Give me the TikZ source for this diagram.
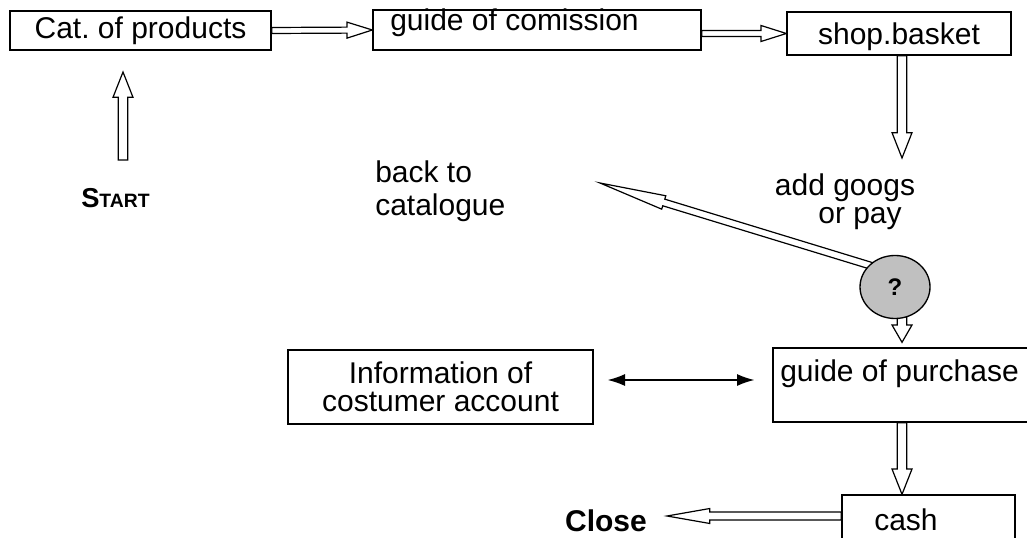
\documentclass[tikz,border=0pt]{standalone}
\usepackage{fontspec}
\setmainfont{Liberation Sans}
\usetikzlibrary{calc}
\usetikzlibrary{shapes}
\usetikzlibrary{backgrounds}
\usetikzlibrary{arrows.meta}
\frenchspacing

\begin{document}
\begin{tikzpicture}[x=0.75pt,y=0.75pt,yscale=-1,xscale=1,
  every node/.style={font=\fontsize{22.5}{27}\selectfont},
  box/.style={draw, line width=1pt, fill=white, inner sep=0pt},
  lbl/.style={inner sep=0pt},
  blockarr/.style n args={3}{draw, line width=0.9pt, fill=white, line join=miter,
    to path={let \p1=(\tikztostart), \p2=(\tikztotarget),
      \n1={atan2(\y2-\y1,\x2-\x1)} in
      ($(\p1)+(\n1+90:#1)$) -- ($(\p2)+(\n1+180:#3)+(\n1+90:#1)$)
      -- ($(\p2)+(\n1+180:#3)+(\n1+90:#2)$) -- (\p2)
      -- ($(\p2)+(\n1+180:#3)+(\n1-90:#2)$) -- ($(\p2)+(\n1+180:#3)+(\n1-90:#1)$)
      -- ($(\p1)+(\n1-90:#1)$) -- cycle}},
  thinarr/.style={line width=1pt, {Latex[length=13pt,width=9pt]}-{Latex[length=13pt,width=9pt]}}
]
\useasboundingbox (0,0) rectangle (1027,538);
\clip (0,0) rectangle (1027,538);

%Shape: Rectangle
\node[box, minimum width=195.75pt, minimum height=29.25pt] (cat) at (140.5,30.5) {Cat. of products};
%Shape: Rectangle
\node[box, minimum width=246pt, minimum height=30pt] (com) at (537,30) {};
%Shape: Rectangle
\node[box, minimum width=168pt, minimum height=32.25pt, text depth=0pt] (shop) at (899,33.5) {shop.basket};
%Shape: Ellipse
\node[draw, ellipse, line width=1pt, fill={rgb,255:red,192;green,192;blue,192}, minimum width=52.5pt, minimum height=47.25pt, inner sep=0pt, font=\bfseries\fontsize{18}{18}\selectfont] (ask) at (895,287) {?};
%Shape: Rectangle
\node[box, minimum width=228.75pt, minimum height=55.5pt, align=center, font=\fontsize{22.5}{21}\selectfont] (info) at (440.5,387) {Information of\\costumer account};
%Shape: Rectangle
\node[box, minimum width=200.25pt, minimum height=55.5pt] (pur) at (906.5,385) {};
%Shape: Rectangle
\node[box, minimum width=129.75pt, minimum height=52.5pt] (cash) at (928.5,530) {};

% Text Node
\node[lbl, anchor=base west] (comtxt) at (390,31) {guide of comission};
% Text Node
\node[lbl, anchor=base west] (purtxt) at (780,381) {guide of purchase};
% Text Node
\node[lbl, anchor=base west] (cashtxt) at (874,530) {cash};
% Text Node
\node[lbl, anchor=base, font=\bfseries\fontsize{22.5}{27}\selectfont] (close) at (606,531) {Close};
% Text Node
\node[lbl, anchor=base west, font=\bfseries] (start) at (81,208) {\fontsize{20.5}{21}\selectfont S\fontsize{14.5}{15}\selectfont TART};
% Text Node
\node[lbl, anchor=north west, align=left, font=\fontsize{22.5}{24.75}\selectfont] (back) at (375,160) {back to\\catalogue};
% Text Node
\node[lbl, anchor=north, align=center, font=\fontsize{22.5}{21.5}\selectfont] (pay) at (845,173) {add googs\\\hspace*{1em}or pay};

\coordinate (stip) at (123,72);
\coordinate (sbot) at (123,160);
\coordinate (shopdn) at (902,158);
\coordinate (bktip) at (600,183);
\coordinate (cltip) at (667,516);

\begin{scope}[on background layer]
%Block Arrows
\draw[blockarr={2.25pt}{6pt}{19pt}] (cat.east) to (com.west);
\draw[blockarr={2.25pt}{6pt}{19pt}] (com.east |- shop.west) to (shop.west);
\draw[blockarr={3.5pt}{7.5pt}{19pt}] (sbot) to (stip);
\draw[blockarr={3.5pt}{7.5pt}{19pt}] ($(shop.south)+(3,0)$) to (shopdn);
\draw[blockarr={2.6pt}{5.25pt}{50pt}] ($(ask.center)+(-20,-20)$) to (bktip);
\draw[blockarr={3.5pt}{7.5pt}{13pt}] ($(ask.center)+(7,0)$) to ($(pur.north)+(-4.5,-5)$);
\draw[blockarr={3.5pt}{7.5pt}{19pt}] ($(pur.south)+(-4.5,0)$) to ($(cash.north)+(-26.5,0)$);
\draw[blockarr={3pt}{5.6pt}{32pt}] ($(cash.west)+(0,-14)$) to (cltip);
\end{scope}

%Straight Lines
\draw[thinarr, shorten <=10.5pt, shorten >=13.5pt] ($(info.east)+(0,-7)$) -- ($(info.east -| pur.west)+(0,-7)$);

\end{tikzpicture}
\end{document}
